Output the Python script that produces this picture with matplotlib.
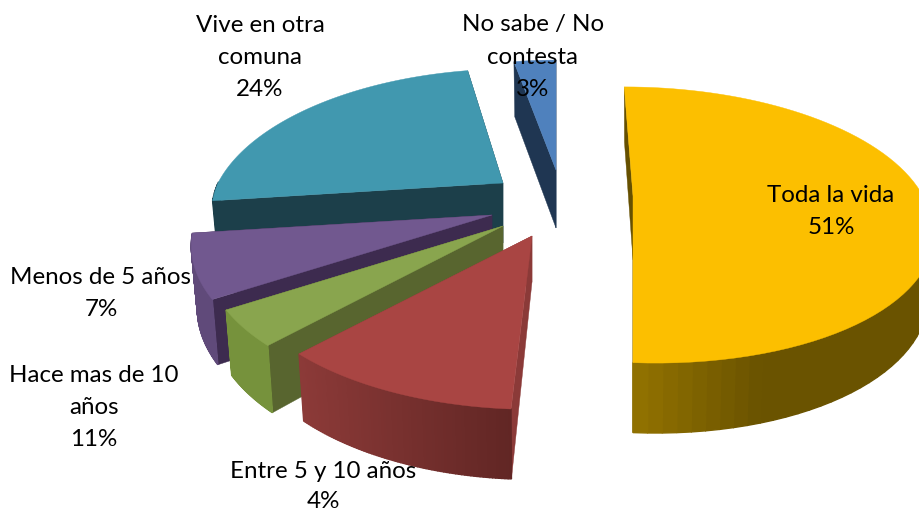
import numpy as np
import matplotlib
matplotlib.use("Agg")
import matplotlib.pyplot as plt
from matplotlib.colors import to_rgb

# ---- data ----
categories = ["Toda la vida", "Entre 5 y 10 años", "Hace mas de 10 años",
              "Menos de 5 años", "Vive en otra comuna", "No sabe / No contesta"]
slice_shares = [51, 11, 4, 7, 24, 3]      # angular size of each slice as drawn
label_percents = [51, 4, 11, 7, 24, 3]    # percentage printed in each label
label_lines = [["Toda la vida"], ["Entre 5 y 10 años"], ["Hace mas de 10", "años"],
               ["Menos de 5 años"], ["Vive en otra", "comuna"], ["No sabe / No", "contesta"]]

# ---- layout / style (pixel space) ----
apex = [(633, 196), (532, 236), (503, 226), (492, 215), (503, 183), (556, 170)]
radii = [(290, 132), (290, 137), (291, 139), (294, 140), (285, 138), (271, 133)]
shear_up = [0.08, 0.0, 0.0, 0.0, -0.08, 0.0]
shear_down = [0.138, 0.012, 0.0, 0.0, 0.0, 0.0]
apex_depth = [64, 46, 60, 60, 60, 58]
top_col = ["#FCBF00", "#A94543", "#89A54E", "#71588F", "#4198AF", "#4F81BD"]
cut_col = ["#665000", "#8B3A38", "#58652F", "#3D2B4F", "#1C3F4A", "#1F3652"]
rim_left = ["#937300", "#8C3A38", "#76923C", "#604A7A", "#1C3F4A", "#1F3652"]
rim_right = ["#6A5300", "#612624", "#76923C", "#604A7A", "#1C3F4A", "#1F3652"]
rim_span = [(632, 760), (299, 512), (224, 270), (190, 222), (213, 500), (514, 556)]
label_x = [831, 323, 94, 101, 260, 533]
label_y = [195, 472, 376, 277, 25, 25]
line_pitch = [32, 30, 32, 32, 32, 32]
draw_order = [4, 5, 3, 2, 1, 0]
PERSP = 0.21
BOTTOM_SCALE = 0.98


def project(i, theta):
    rx, ry = radii[i]
    s = 1 / (1 + PERSP * np.cos(theta))
    dy = -ry * np.cos(theta) * s
    dx = rx * np.sin(theta) * s + np.where(dy < 0, shear_up[i], shear_down[i]) * dy
    return dx, dy, s


def depth_of(s):
    return 55 + (s - 0.826) * 34


fig = plt.figure(figsize=(9.2, 5.12), dpi=100)
ax = fig.add_axes([0, 0, 1, 1])
ax.set_xlim(0, 920)
ax.set_ylim(512, 0)
ax.axis("off")

edges = np.cumsum([0] + slice_shares) / sum(slice_shares) * 2 * np.pi

for i in draw_order:
    cx, cy = apex[i]
    th = np.linspace(edges[i], edges[i + 1], 80)
    dx, dy, s = project(i, th)
    d = depth_of(s)
    xt, yt = cx + dx, cy + dy
    xb, yb = cx + dx * BOTTOM_SCALE, cy + dy + d

    # the two cut faces
    ab = apex_depth[i]
    for k in (0, -1):
        ax.fill([cx, xt[k], xb[k], cx], [cy, yt[k], yb[k], cy + ab],
                facecolor=cut_col[i], edgecolor=cut_col[i], lw=0.3)

    # rim, shaded across its width; only the near part can be seen
    c0, c1 = np.array(to_rgb(rim_left[i])), np.array(to_rgb(rim_right[i]))
    x0, x1 = rim_span[i]
    for j in range(len(th) - 1):
        if np.cos(th[j]) > 0.0:
            continue
        f = np.clip((0.5 * (xt[j] + xt[j + 1]) - x0) / (x1 - x0), 0, 1)
        col = c0 + (c1 - c0) * f
        ax.fill([xt[j], xt[j + 1], xb[j + 1], xb[j]],
                [yt[j], yt[j + 1], yb[j + 1], yb[j]],
                facecolor=col, edgecolor=col, lw=1.0)

    # top face
    ax.fill(np.r_[cx, xt], np.r_[cy, yt], facecolor=top_col[i],
            edgecolor=top_col[i], lw=0.3)

for i, lines in enumerate(label_lines):
    for n, line in enumerate(lines + [f"{label_percents[i]}%"]):
        ax.text(label_x[i], label_y[i] + n * line_pitch[i], line, ha="center", va="center",
                family="Lato", fontsize=17.4, color="black", zorder=20, clip_on=False)

fig.savefig("out.png", dpi=100)
